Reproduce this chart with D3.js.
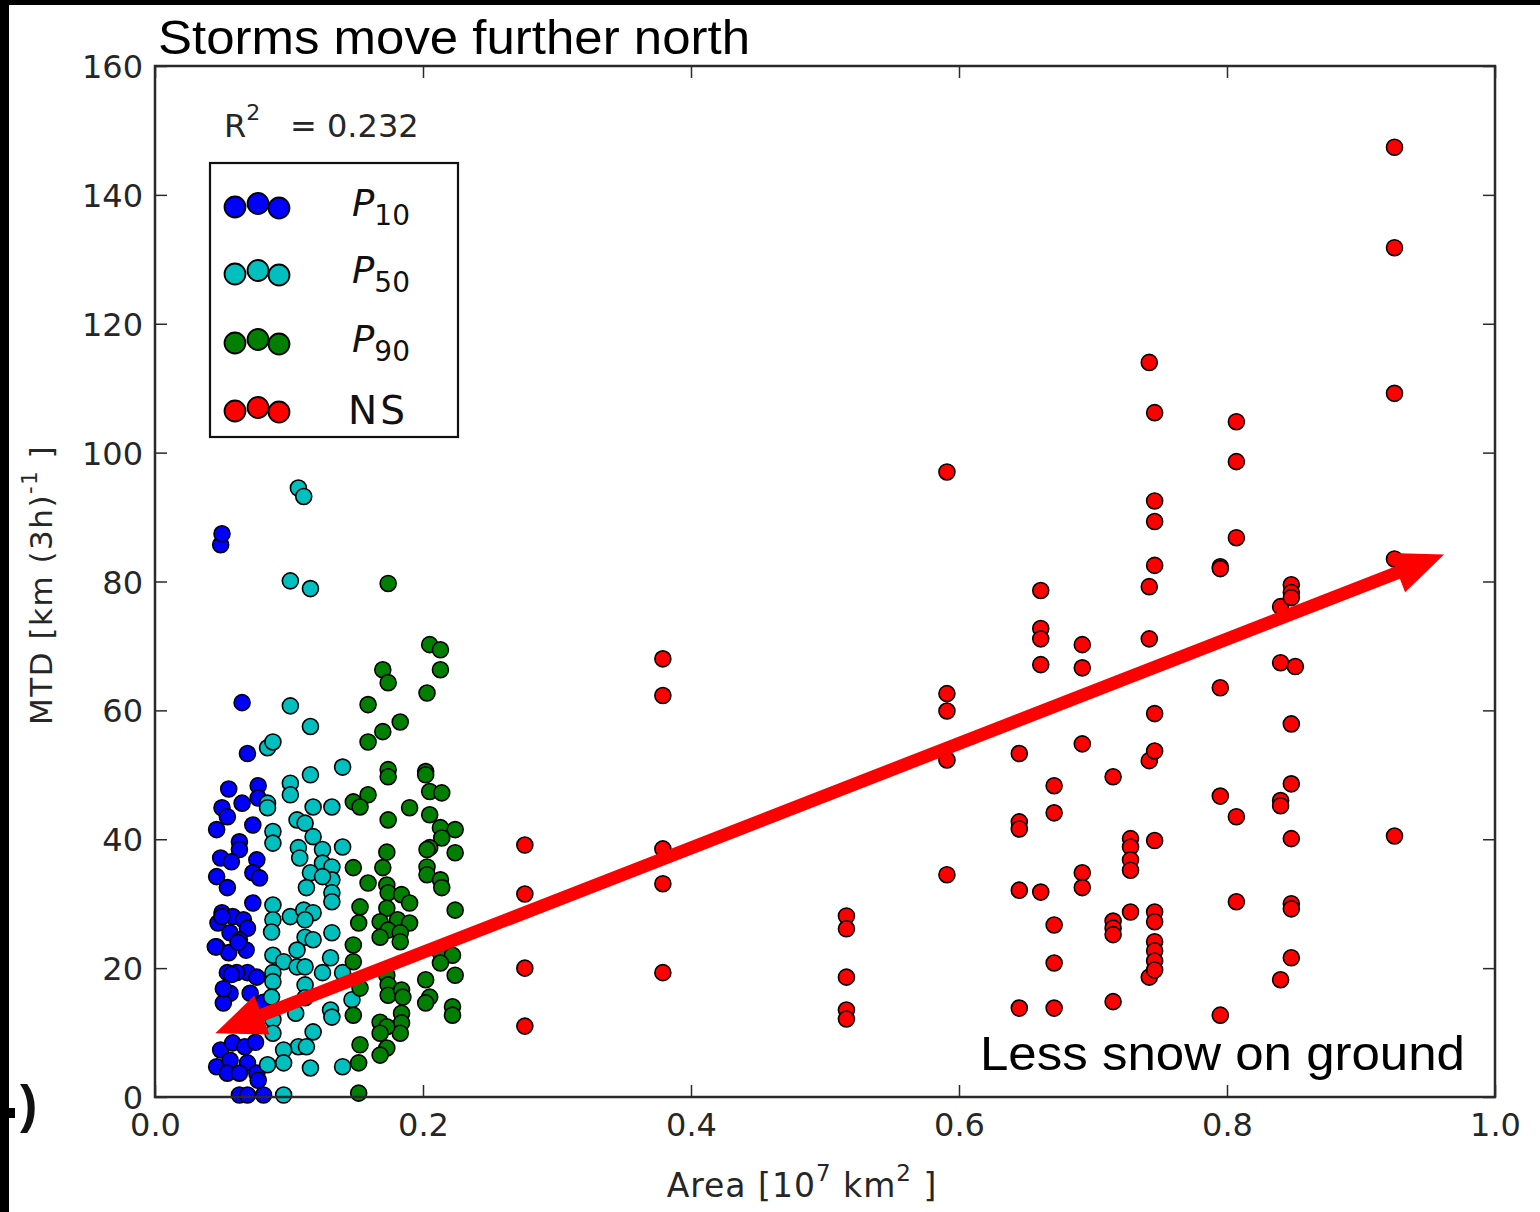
<!DOCTYPE html>
<html><head><meta charset="utf-8">
<script src="https://cdn.jsdelivr.net/npm/d3@7"></script>
<style>body{margin:0;background:#fff}svg{display:block}</style>
</head><body>
<script>
const xTicks=[0.0,0.2,0.4,0.6,0.8,1.0];
const yTicks=[0,20,40,60,80,100,120,140,160];
const seriesNames=["P10","P50","P90","NS"];
const seriesColors=["#0000ff","#00bfbf","#007f00","#ff0000"];
const p10=[[0.049,85.7],[0.050,87.4],[0.065,61.2],[0.069,53.3],[0.055,47.8],[0.077,48.3],[0.065,45.6],[0.050,44.9],[0.054,43.5],[0.046,41.5],[0.073,42.2],[0.077,46.4],[0.063,39.6],[0.063,38.4],[0.049,37.1],[0.076,36.8],[0.057,36.5],[0.046,34.2],[0.073,34.8],[0.078,34.0],[0.054,32.5],[0.073,30.1],[0.050,28.6],[0.058,28.0],[0.066,27.5],[0.047,27.0],[0.069,26.2],[0.056,25.5],[0.046,23.3],[0.063,24.4],[0.068,22.8],[0.055,22.4],[0.054,19.3],[0.069,19.3],[0.061,19.3],[0.076,18.6],[0.056,16.1],[0.051,14.6],[0.071,16.1],[0.081,14.7],[0.049,7.3],[0.046,4.7],[0.058,8.4],[0.067,7.8],[0.075,8.5],[0.056,5.7],[0.069,5.3],[0.054,3.7],[0.063,3.7],[0.076,3.7],[0.063,0.3],[0.069,0.3],[0.081,0.3],[0.077,2.6],[0.050,28.0],[0.045,23.3],[0.062,24.0],[0.057,19.0],[0.051,16.8]];
const p50=[[0.107,94.5],[0.111,93.2],[0.101,80.1],[0.116,78.9],[0.101,60.7],[0.116,57.5],[0.084,54.2],[0.088,55.1],[0.140,51.2],[0.116,50.0],[0.101,48.7],[0.101,46.9],[0.084,45.6],[0.084,44.9],[0.118,45.0],[0.132,45.0],[0.106,43.0],[0.112,42.5],[0.088,41.2],[0.088,39.4],[0.118,40.4],[0.107,38.7],[0.108,37.1],[0.125,38.4],[0.140,38.8],[0.125,36.3],[0.132,35.7],[0.116,34.8],[0.132,33.7],[0.125,34.2],[0.113,32.5],[0.132,31.7],[0.132,30.3],[0.088,29.8],[0.101,28.0],[0.088,27.5],[0.111,29.0],[0.118,28.6],[0.112,27.5],[0.087,25.6],[0.132,25.5],[0.112,24.8],[0.118,24.4],[0.106,22.8],[0.088,22.0],[0.096,21.0],[0.131,21.6],[0.106,20.2],[0.112,20.2],[0.125,19.3],[0.088,19.3],[0.140,19.3],[0.112,17.4],[0.088,17.9],[0.087,15.5],[0.112,15.4],[0.147,15.1],[0.131,13.5],[0.132,12.4],[0.105,13.0],[0.088,12.0],[0.088,9.9],[0.118,10.1],[0.107,7.8],[0.113,7.8],[0.096,7.3],[0.096,5.3],[0.084,5.0],[0.116,4.5],[0.140,4.7],[0.096,0.3]];
const p90=[[0.174,79.7],[0.205,70.2],[0.213,69.4],[0.213,66.3],[0.170,66.3],[0.174,64.3],[0.203,62.7],[0.159,60.9],[0.183,58.2],[0.170,56.7],[0.159,55.1],[0.174,50.8],[0.174,49.7],[0.202,50.5],[0.202,50.0],[0.205,47.4],[0.214,47.2],[0.159,46.9],[0.148,45.8],[0.153,45.0],[0.190,44.9],[0.174,43.0],[0.205,43.8],[0.213,41.8],[0.224,41.5],[0.214,40.2],[0.205,38.7],[0.203,38.4],[0.224,37.9],[0.173,38.0],[0.148,35.6],[0.170,35.6],[0.203,35.7],[0.203,34.5],[0.159,33.2],[0.173,32.9],[0.213,33.7],[0.214,32.5],[0.174,31.7],[0.184,31.4],[0.153,29.5],[0.173,29.3],[0.190,30.1],[0.224,29.0],[0.152,27.0],[0.168,27.2],[0.181,27.5],[0.190,27.0],[0.174,25.9],[0.168,24.8],[0.183,25.5],[0.183,24.1],[0.148,23.6],[0.148,21.0],[0.213,22.4],[0.222,22.0],[0.213,20.8],[0.224,18.9],[0.173,18.9],[0.174,17.4],[0.174,15.8],[0.184,16.6],[0.185,15.5],[0.153,16.9],[0.202,18.2],[0.205,15.5],[0.202,14.6],[0.222,14.0],[0.222,12.7],[0.148,12.7],[0.184,13.0],[0.184,11.5],[0.183,9.9],[0.168,11.6],[0.173,10.9],[0.168,9.9],[0.173,7.6],[0.168,6.5],[0.153,8.1],[0.152,5.3],[0.152,0.6]];
const ns=[[0.276,39.1],[0.276,31.5],[0.276,20.0],[0.276,11.0],[0.379,68.0],[0.379,62.3],[0.379,38.5],[0.379,33.1],[0.379,19.3],[0.516,28.1],[0.516,26.1],[0.516,18.6],[0.516,13.5],[0.516,12.1],[0.591,97.0],[0.591,62.6],[0.591,59.9],[0.591,52.3],[0.591,34.5],[0.645,53.3],[0.645,42.7],[0.645,41.6],[0.645,32.1],[0.645,13.8],[0.661,78.6],[0.661,72.7],[0.661,71.1],[0.661,67.1],[0.661,31.8],[0.671,48.3],[0.671,44.1],[0.671,26.7],[0.671,20.8],[0.671,13.8],[0.692,70.2],[0.692,66.6],[0.692,54.8],[0.692,34.8],[0.692,32.5],[0.715,49.7],[0.715,27.3],[0.715,26.2],[0.715,25.2],[0.715,14.8],[0.728,40.1],[0.728,38.8],[0.728,36.8],[0.728,35.2],[0.728,28.7],[0.742,114.0],[0.742,79.2],[0.742,71.1],[0.742,52.2],[0.742,18.6],[0.746,106.2],[0.746,92.5],[0.746,89.3],[0.746,82.5],[0.746,59.5],[0.746,53.7],[0.746,39.8],[0.746,28.7],[0.746,27.2],[0.746,24.1],[0.746,22.7],[0.746,21.1],[0.746,19.7],[0.795,82.3],[0.795,82.0],[0.795,63.5],[0.795,46.7],[0.795,12.7],[0.807,104.8],[0.807,98.6],[0.807,86.8],[0.807,43.5],[0.807,30.3],[0.840,76.1],[0.840,67.4],[0.840,46.0],[0.840,45.2],[0.840,18.2],[0.848,79.5],[0.848,78.3],[0.848,77.5],[0.848,57.9],[0.848,48.6],[0.848,40.1],[0.848,30.0],[0.848,29.2],[0.848,21.6],[0.851,66.8],[0.925,147.4],[0.925,131.8],[0.925,109.2],[0.925,83.5],[0.925,40.5]];
const arrowEnds=[[0.045,9.9],[0.962,84.2]];

const W=1540,H=1212;
const L=155,R=1495,T=66,B=1097;
const x=d3.scaleLinear().domain([0,1]).range([L,R]);
const y=d3.scaleLinear().domain([0,160]).range([B,T]);
const svg=d3.select("body").append("svg").attr("width",W).attr("height",H);
svg.append("rect").attr("width",W).attr("height",H).attr("fill","#fff");
// black page edges
svg.append("rect").attr("x",0).attr("y",0).attr("width",W).attr("height",5).attr("fill","#000");
svg.append("rect").attr("x",0).attr("y",0).attr("width",9).attr("height",H).attr("fill","#000");
svg.append("rect").attr("x",0).attr("y",1108).attr("width",15).attr("height",10).attr("fill","#000");
svg.append("text").attr("x",20).attr("y",1122).attr("font-family","Liberation Sans, Arial").attr("font-weight","bold").attr("font-size",52).attr("fill","#111").text(")");

const tickFont="DejaVu Sans";
const gridCol="#2a2a2a";
// axes with inward ticks
const ax=svg.append("g");
const xb=ax.append("g").attr("transform",`translate(0,${B})`).call(d3.axisBottom(x).tickValues(xTicks).tickSize(-12).tickPadding(16).tickFormat(d3.format(".1f")));
const xt=ax.append("g").attr("transform",`translate(0,${T})`).call(d3.axisTop(x).tickValues(xTicks).tickSize(-12).tickFormat(""));
const yl=ax.append("g").attr("transform",`translate(${L},0)`).call(d3.axisLeft(y).tickValues(yTicks).tickSize(-12).tickPadding(12));
const yr=ax.append("g").attr("transform",`translate(${R},0)`).call(d3.axisRight(y).tickValues(yTicks).tickSize(-12).tickFormat(""));
ax.selectAll(".domain").remove();
ax.selectAll(".tick line").attr("stroke",gridCol).attr("stroke-width",1.5);
ax.selectAll(".tick text").attr("font-family",tickFont).attr("font-size",32).attr("fill","#262626");
yl.selectAll(".tick text").attr("dy","0.36em");

// points
const all=[p10,p50,p90,ns];
all.forEach((s,i)=>{
  svg.append("g").selectAll("circle").data(s).join("circle")
    .attr("cx",d=>x(d[0])).attr("cy",d=>y(d[1])).attr("r",8)
    .attr("fill",seriesColors[i]).attr("stroke","#000").attr("stroke-width",1.6);
});

// frame
svg.append("rect").attr("x",L).attr("y",T).attr("width",R-L).attr("height",B-T).attr("fill","none").attr("stroke",gridCol).attr("stroke-width",2.5);

// R^2 text
const rt=svg.append("text").attr("y",137).attr("font-family",tickFont).attr("font-size",32).attr("fill","#262626");
rt.append("tspan").attr("x",224).text("R");
rt.append("tspan").attr("dy",-17).attr("font-size",22).text("2");
rt.append("tspan").attr("x",290).attr("dy",17).text("= 0.232");

// legend
svg.append("rect").attr("x",210).attr("y",163).attr("width",248).attr("height",274).attr("fill","#fff").attr("stroke","#111").attr("stroke-width",2.2);
const rowsY=[206,273,342,410];
const mk=[[235,1],[258,-2.5],[279,2]];
seriesNames.forEach((n,i)=>{
  mk.forEach(m=>{
    svg.append("circle").attr("cx",m[0]).attr("cy",rowsY[i]+m[1]).attr("r",10.5)
      .attr("fill",seriesColors[i]).attr("stroke","#000").attr("stroke-width",1.8);
  });
  const t=svg.append("text").attr("x",352).attr("y",rowsY[i]+10).attr("font-family",tickFont).attr("font-size",37).attr("fill","#111");
  if(n==="NS"){t.attr("x",348).attr("y",rowsY[i]+14).attr("font-size",39).attr("letter-spacing",3).text("NS");}
  else{
    t.append("tspan").attr("font-style","italic").text("P");
    t.append("tspan").attr("dy",9).attr("font-size",28).text(n.slice(1));
  }
});

// arrow
const [a0,a1]=arrowEnds;
const p0=[x(a0[0]),y(a0[1])],p1=[x(a1[0]),y(a1[1])];
const dx=p1[0]-p0[0],dy=p1[1]-p0[1],len=Math.hypot(dx,dy);
const u=[dx/len,dy/len],n=[-u[1],u[0]];
const hl=50,hw=21,lw=6.5;
function pt(base,a,b){return [base[0]+u[0]*a+n[0]*b,base[1]+u[1]*a+n[1]*b];}
const poly=[p0,pt(p0,hl,hw),pt(p0,hl,lw),pt(p1,-hl,lw),pt(p1,-hl,hw),p1,pt(p1,-hl,-hw),pt(p1,-hl,-lw),pt(p0,hl,-lw),pt(p0,hl,-hw)];
svg.append("path").attr("d",d3.line()(poly)+"Z").attr("fill","#ff0000");

// titles
svg.append("text").attr("x",158).attr("y",54).attr("font-family","Liberation Sans, Arial").attr("font-size",48).attr("textLength",592).attr("lengthAdjust","spacingAndGlyphs").attr("fill","#000").text("Storms move further north");
svg.append("text").attr("x",980).attr("y",1070).attr("font-family","Liberation Sans, Arial").attr("font-size",48).attr("textLength",485).attr("lengthAdjust","spacingAndGlyphs").attr("fill","#000").text("Less snow on ground");

// axis labels
const xl=svg.append("text").attr("x",802).attr("y",1197).attr("text-anchor","middle").attr("font-family",tickFont).attr("font-size",33).attr("letter-spacing",1).attr("fill","#262626");
xl.append("tspan").text("Area [10");
xl.append("tspan").attr("dy",-16).attr("font-size",23).text("7");
xl.append("tspan").attr("dy",16).text("  km");
xl.append("tspan").attr("dy",-16).attr("font-size",23).text("2");
xl.append("tspan").attr("dy",16).text("  ]");
const yl2=svg.append("text").attr("transform","translate(52,585) rotate(-90)").attr("text-anchor","middle").attr("font-family",tickFont).attr("font-size",31).attr("letter-spacing",1.5).attr("fill","#262626");
yl2.append("tspan").text("MTD [km (3h)");
yl2.append("tspan").attr("dy",-15).attr("font-size",21).text("-1");
yl2.append("tspan").attr("dy",15).text("  ]");
</script>
</body></html>
